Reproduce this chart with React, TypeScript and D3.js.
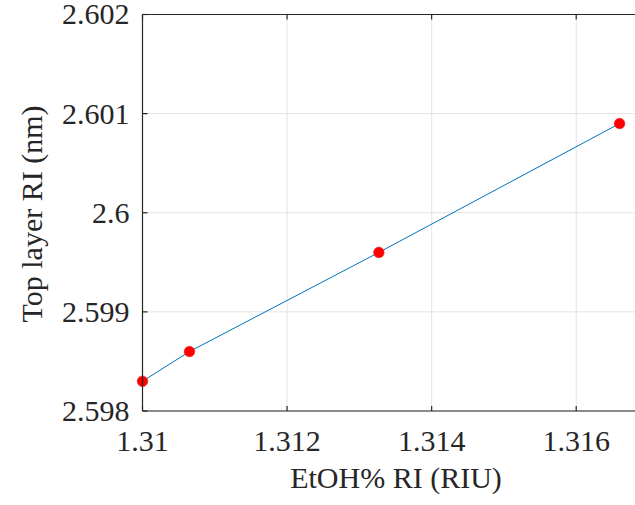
import React from "react";
import * as d3 from "d3";

const xValues = [1.31, 1.31065, 1.31327, 1.3166];
const yValues = [2.5983, 2.5986, 2.5996, 2.6009];
const xTicks = [1.31, 1.312, 1.314, 1.316];
const yTicks = [2.598, 2.599, 2.6, 2.601, 2.602];
const xTickLabels = ["1.31", "1.312", "1.314", "1.316"];
const yTickLabels = ["2.598", "2.599", "2.6", "2.601", "2.602"];

const W = 635;
const H = 505;
const left = 142.5;
const top = 14.5;
const bottom = 411;
const SERIF = "Liberation Serif";
const FS = 30;

export default function App() {
  const x = d3.scaleLinear().domain([1.31, 1.317]).range([left, 648.5]);
  const y = d3.scaleLinear().domain([2.598, 2.602]).range([bottom, top]);
  const right = x(1.317);
  const pts = xValues.map((v, i) => [v, yValues[i]] as [number, number]);
  const line = d3
    .line<[number, number]>()
    .x((d) => x(d[0]))
    .y((d) => y(d[1]));
  const axisColor = "#262626";
  const ts = { fontFamily: SERIF };
  return (
    <svg width={W} height={H} style={{ position: "absolute", left: 0, top: 0 }}>
      <rect x={0} y={0} width={W} height={H} fill="#fff" />
      {xTicks.map((t) => (
        <line key={"gx" + t} x1={x(t)} x2={x(t)} y1={top} y2={bottom} stroke="#e3e3e3" strokeWidth={1} />
      ))}
      {yTicks.map((t) => (
        <line key={"gy" + t} x1={left} x2={right} y1={y(t)} y2={y(t)} stroke="#e3e3e3" strokeWidth={1} />
      ))}
      <path d={line(pts) || ""} fill="none" stroke="#0072BD" strokeWidth={1} />
      {pts.map((p, i) => (
        <circle key={i} cx={x(p[0])} cy={y(p[1])} r={5.3} fill="#ff0000" stroke="#f01010" strokeWidth={0.5} />
      ))}
      <line x1={left} x2={right} y1={bottom} y2={bottom} stroke={axisColor} strokeWidth={1.2} />
      <line x1={left} x2={right} y1={top} y2={top} stroke={axisColor} strokeWidth={1.2} />
      <line x1={left} x2={left} y1={top} y2={bottom} stroke={axisColor} strokeWidth={1.2} />
      {xTicks.map((t) => (
        <g key={"xt" + t}>
          <line x1={x(t)} x2={x(t)} y1={bottom} y2={bottom - 5} stroke={axisColor} strokeWidth={1.2} />
          <line x1={x(t)} x2={x(t)} y1={top} y2={top + 5} stroke={axisColor} strokeWidth={1.2} />
        </g>
      ))}
      {yTicks.map((t) => (
        <line key={"yt" + t} x1={left} x2={left + 5} y1={y(t)} y2={y(t)} stroke={axisColor} strokeWidth={1.2} />
      ))}
      {xTicks.map((t, i) => (
        <text key={"xl" + t} x={x(t)} y={451} textAnchor="middle" fontSize={FS} fill={axisColor} style={ts}>
          {xTickLabels[i]}
        </text>
      ))}
      {yTicks.map((t, i) => (
        <text
          key={"yl" + t}
          x={left - 13}
          y={y(t)}
          dy="0.33em"
          textAnchor="end"
          fontSize={FS}
          fill={axisColor}
          style={ts}
        >
          {yTickLabels[i]}
        </text>
      ))}
      <text x={396} y={488} textAnchor="middle" fontSize={FS} fill={axisColor} style={ts}>
        EtOH% RI (RIU)
      </text>
      <text
        transform={`translate(42, 214) rotate(-90)`}
        textAnchor="middle"
        fontSize={FS}
        fill={axisColor}
        style={ts}
      >
        Top layer RI (nm)
      </text>
    </svg>
  );
}
